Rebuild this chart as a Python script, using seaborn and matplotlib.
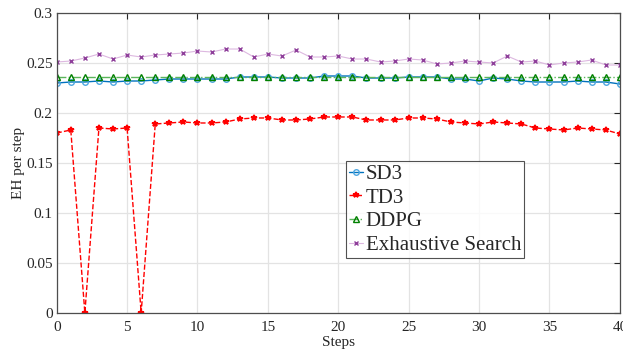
import numpy as np
import pandas as pd
import seaborn as sns
import matplotlib
matplotlib.use('Agg')
import matplotlib.pyplot as plt

# Dados (passos 0..40)
steps = list(range(41))
sd3 = [0.230, 0.231, 0.231, 0.232, 0.231, 0.232, 0.232, 0.233, 0.234, 0.234,
       0.234, 0.234, 0.234, 0.236, 0.236, 0.236, 0.235, 0.235, 0.235, 0.237,
       0.237, 0.237, 0.235, 0.235, 0.235, 0.236, 0.236, 0.236, 0.234, 0.234,
       0.232, 0.235, 0.234, 0.232, 0.231, 0.231, 0.231, 0.232, 0.231, 0.231,
       0.229]
td3 = [0.180, 0.183, 0.000, 0.185, 0.184, 0.185, 0.000, 0.189, 0.190, 0.191,
       0.190, 0.190, 0.191, 0.194, 0.195, 0.195, 0.193, 0.193, 0.194, 0.196,
       0.196, 0.196, 0.193, 0.193, 0.193, 0.195, 0.195, 0.194, 0.191, 0.190,
       0.189, 0.191, 0.190, 0.189, 0.185, 0.184, 0.183, 0.185, 0.184, 0.183,
       0.179]
ddpg = [0.2365] * 41
exhaustive = [0.251, 0.252, 0.255, 0.259, 0.254, 0.258, 0.256, 0.258, 0.259, 0.260,
              0.262, 0.261, 0.264, 0.264, 0.256, 0.259, 0.257, 0.263, 0.256, 0.256,
              0.257, 0.254, 0.254, 0.251, 0.252, 0.254, 0.253, 0.249, 0.250, 0.252,
              0.251, 0.250, 0.257, 0.251, 0.252, 0.248, 0.250, 0.251, 0.253, 0.248,
              0.248]

series_names = ['SD3', 'TD3', 'DDPG', 'Exhaustive Search']
x_ticks = [0, 5, 10, 15, 20, 25, 30, 35, 40]
y_ticks = [0, 0.05, 0.1, 0.15, 0.2, 0.25, 0.3]
y_tick_labels = ['0', '0.05', '0.1', '0.15', '0.2', '0.25', '0.3']

sns.set_style('whitegrid')
plt.rcParams['font.family'] = ['Liberation Serif', 'DejaVu Serif']

fig = plt.figure(figsize=(6.23, 3.52), dpi=100)
ax = fig.add_axes([0.091, 0.111, 0.904, 0.852])

# Estilos de cada série
sns.lineplot(x=steps, y=sd3, ax=ax, color='#0072BD', linestyle='-', linewidth=1.0,
             marker='o', markersize=4, markerfacecolor='none',
             markeredgecolor='#4DA6E0', markeredgewidth=1.0, label=series_names[0])
sns.lineplot(x=steps, y=td3, ax=ax, color='#FF0000', linestyle='--', linewidth=1.0,
             marker='*', markersize=4, markerfacecolor='#FF0000',
             markeredgecolor='#FF0000', markeredgewidth=1.2, label=series_names[1])
sns.lineplot(x=steps, y=ddpg, ax=ax, color='#5BB55B', linestyle='-.', linewidth=1.0,
             marker='^', markersize=4.5, markerfacecolor='none',
             markeredgecolor='#008000', markeredgewidth=1.0, label=series_names[2])
sns.lineplot(x=steps, y=exhaustive, ax=ax, color='#DDB8E0', linestyle='-', linewidth=0.8,
             marker='x', markersize=3.5, markeredgecolor='#8E3E9A',
             markeredgewidth=1.0, label=series_names[3])

ax.set_xlim(0, 40)
ax.set_ylim(0, 0.3)
ax.set_xticks(x_ticks)
ax.set_yticks(y_ticks)
ax.set_yticklabels(y_tick_labels)
ax.set_xlabel('Steps', fontsize=11, labelpad=1)
ax.set_ylabel('EH per step', fontsize=11, labelpad=1)

ax.grid(True, color='#E3E3E3', linewidth=0.9)
ax.tick_params(direction='in', length=4, width=0.8, colors='#262626',
               labelsize=11, top=True, right=True)
ax.tick_params(axis='x', pad=6)
ax.tick_params(axis='y', pad=3)
for side in ax.spines.values():
    side.set_visible(True)
    side.set_color('#4D4D4D')
    side.set_linewidth(0.9)

leg = ax.legend(loc='upper left', bbox_to_anchor=(0.513, 0.506), fontsize=15,
                frameon=True, fancybox=False, edgecolor='#262626',
                handlelength=0.7, handletextpad=0.12, labelspacing=0.2,
                borderpad=0.15, borderaxespad=0.0)
leg.get_frame().set_linewidth(0.8)

plt.savefig('out.png', dpi=100)
